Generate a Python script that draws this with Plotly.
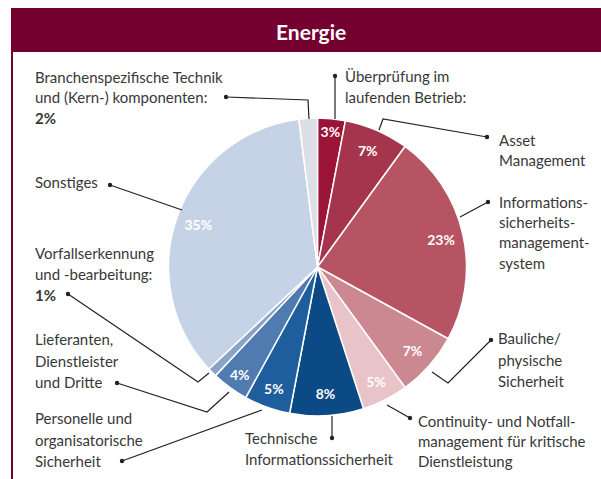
import plotly.graph_objects as go

W, H = 601, 479

# ---- data ----
categories = [
    "Überprüfung im laufenden Betrieb",
    "Asset Management",
    "Informationssicherheitsmanagementsystem",
    "Bauliche/physische Sicherheit",
    "Continuity- und Notfallmanagement für kritische Dienstleistung",
    "Technische Informationssicherheit",
    "Personelle und organisatorische Sicherheit",
    "Lieferanten, Dienstleister und Dritte",
    "Vorfallserkennung und -bearbeitung",
    "Sonstiges",
    "Branchenspezifische Technik und (Kern-) komponenten",
]
values = [3, 7, 23, 7, 5, 8, 5, 4, 1, 35, 2]
show_inside = [True, True, True, True, True, True, True, True, False, True, False]
colors = ["#9C1338", "#A5354C", "#B75464", "#CC8891", "#E8C3C8",
          "#0C4A86", "#1F5E9C", "#4F7BB0", "#8AA4C8", "#C6D2E6", "#DCDFE5"]

inside_text = [f"<b>{v}%</b>" if s else "" for v, s in zip(values, show_inside)]

FONT = "Lato"

def px(x):
    return x / W

def py(y):
    return 1 - y / H

pie_domain = dict(x=[px(168), px(467)], y=[py(416), py(118)])

fig = go.Figure()
# coloured pie
fig.add_trace(go.Pie(
    labels=categories,
    values=values,
    textinfo="none",
    marker=dict(colors=colors, line=dict(color="white", width=1.5)),
    sort=False,
    direction="clockwise",
    rotation=0,
    showlegend=False,
    hoverinfo="label+percent",
    domain=pie_domain,
))
# transparent ring carrying the percentage labels near the rim
fig.add_trace(go.Pie(
    labels=categories,
    values=values,
    text=inside_text,
    textinfo="text",
    textposition="inside",
    insidetextorientation="horizontal",
    textfont=dict(color="white", size=14, family=FONT),
    marker=dict(colors=["rgba(0,0,0,0)"] * len(values), line=dict(width=0)),
    hole=0.7,
    sort=False,
    direction="clockwise",
    rotation=0,
    showlegend=False,
    hoverinfo="skip",
    domain=pie_domain,
))

shapes = []
annotations = []

# header bar and left border
shapes.append(dict(type="rect", xref="paper", yref="paper",
                   x0=px(11), x1=1, y0=py(52), y1=py(8),
                   fillcolor="#74002F", line=dict(width=0), layer="below"))
shapes.append(dict(type="line", xref="paper", yref="paper",
                   x0=px(12), x1=px(12), y0=py(52), y1=0,
                   line=dict(color="#74002F", width=2)))
annotations.append(dict(text="<b>Energie</b>", x=px(311), y=py(31),
                        xref="paper", yref="paper", showarrow=False,
                        xanchor="center", yanchor="middle",
                        font=dict(color="white", size=21, family=FONT)))

TXT = "#383838"

def label(x, ys, lines):
    for yy, t in zip(ys, lines):
        annotations.append(dict(text=t, x=px(x), y=py(yy), xref="paper", yref="paper",
                                showarrow=False, xanchor="left", yanchor="middle",
                                font=dict(color=TXT, size=15, family=FONT)))

def leader(points):
    path = "M " + " L ".join(f"{px(x)},{py(y)}" for x, y in points)
    shapes.append(dict(type="path", xref="paper", yref="paper", path=path,
                       line=dict(color="#222222", width=1.2)))
    x0, y0 = points[0]
    r = 2.2
    shapes.append(dict(type="circle", xref="paper", yref="paper",
                       x0=px(x0 - r), x1=px(x0 + r), y0=py(y0 + r), y1=py(y0 - r),
                       fillcolor="#222222", line=dict(width=0)))

label(33, [77, 97, 118], ["Branchenspezifische Technik", "und (Kern-) komponenten:", "<b>2%</b>"])
leader([(226, 97), (308, 100), (309, 119)])

label(33, [182], ["Sonstiges"])
leader([(110, 185), (182, 210)])

label(33, [253, 274, 295], ["Vorfallserkennung", "und -bearbeitung:", "<b>1%</b>"])
leader([(68, 294), (198, 382), (209, 373)])

label(33, [339, 361, 382], ["Lieferanten,", "Dienstleister", "und Dritte"])
leader([(117, 383), (207, 412), (229, 392)])

label(33, [418, 440, 461], ["Personelle und", "organisatorische", "Sicherheit"])
leader([(122, 461), (262, 410)])

label(243, [438, 459], ["Technische", "Informationssicherheit"])
leader([(332, 438), (332, 416)])

label(416, [421, 441, 461], ["Continuity- und Notfall-", "management für kritische", "Dienstleistung"])
leader([(410, 418), (387, 405)])

label(496, [338, 360, 381], ["Bauliche/", "physische", "Sicherheit"])
leader([(491, 340), (448, 383), (432, 372)])

label(497, [202, 222, 242, 263], ["Informations-", "sicherheits-", "management-", "system"])
leader([(488, 202), (460, 217)])

label(497, [140, 160], ["Asset", "Management"])
leader([(487, 137), (383, 119), (379, 130)])

label(343, [76, 97], ["Überprüfung im", "laufenden Betrieb:"])
leader([(335, 76), (335, 119)])

fig.update_layout(
    width=W, height=H,
    margin=dict(l=0, r=0, t=0, b=0),
    paper_bgcolor="white",
    plot_bgcolor="white",
    shapes=shapes,
    annotations=annotations,
    uniformtext=dict(minsize=14, mode="show"),
)

fig.write_html("out.html", config={"displayModeBar": False},
               post_script="document.body.style.margin='0';")
